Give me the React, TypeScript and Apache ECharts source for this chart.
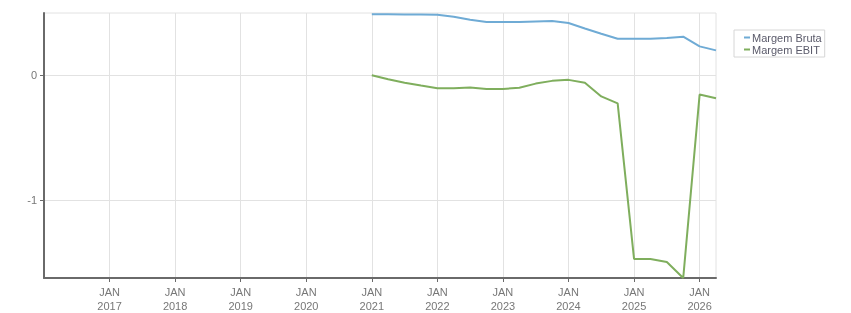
import React, { useEffect, useRef } from "react";
import * as echarts from "echarts";

const quarters = [
  "2021-01", "2021-04", "2021-07", "2021-10",
  "2022-01", "2022-04", "2022-07", "2022-10",
  "2023-01", "2023-04", "2023-07", "2023-10",
  "2024-01", "2024-04", "2024-07", "2024-10",
  "2025-01", "2025-04", "2025-07", "2025-10",
  "2026-01", "2026-04",
];

const margemBruta = [
  0.49, 0.49, 0.488, 0.487,
  0.486, 0.47, 0.445, 0.428,
  0.428, 0.428, 0.432, 0.435,
  0.42, 0.375, 0.333, 0.293,
  0.293, 0.293, 0.3, 0.31,
  0.232, 0.2,
];

const margemEbit = [
  0, -0.032, -0.06, -0.083,
  -0.104, -0.104, -0.098, -0.11,
  -0.11, -0.1, -0.067, -0.045,
  -0.037, -0.06, -0.17, -0.226,
  -1.475, -1.475, -1.5, -1.628,
  -0.155, -0.184,
];

const yearTicks = [2017, 2018, 2019, 2020, 2021, 2022, 2023, 2024, 2025, 2026];
const yTicks = [-1, 0];

const toYear = (q: string) => {
  const [y, m] = q.split("-").map(Number);
  return y + (m - 1) / 12;
};

const FONT = "Liberation Sans";

export default function App() {
  const ref = useRef<HTMLDivElement>(null);
  useEffect(() => {
    if (!ref.current) return;
    const chart = echarts.init(ref.current, undefined, { renderer: "svg" });
    const xs = quarters.map(toYear);
    chart.setOption({
      animation: false,
      grid: {
        left: 44,
        right: 135,
        top: 13,
        bottom: 34,
        show: true,
        borderColor: "#e2e2e2",
        borderWidth: 1,
      },
      legend: {
        orient: "vertical",
        left: 734,
        top: 30,
        padding: [2, 3, 2, 10],
        itemGap: 1,
        itemWidth: 6,
        itemHeight: 2,
        icon: "rect",
        backgroundColor: "#fff",
        borderColor: "#d6d6d6",
        borderWidth: 1,
        textStyle: { fontFamily: FONT, fontSize: 11, color: "#5a5a6a", lineHeight: 11, padding: [0, 0, 0, -3] },
        data: ["Margem Bruta", "Margem EBIT"],
      },
      xAxis: {
        type: "value",
        min: 2016,
        max: 2026.25,
        interval: 1,
        axisLine: { show: true, onZero: false, lineStyle: { color: "#6a6a6a", width: 2 } },
        axisTick: { show: true, length: 4, lineStyle: { color: "#6a6a6a" }, customValues: yearTicks },
        axisLabel: {
          customValues: yearTicks,
          fontFamily: FONT,
          fontSize: 11,
          color: "#777",
          lineHeight: 14,
          margin: 7,
          formatter: (v: number) => "JAN\n" + Math.round(v),
        },
        splitLine: { show: true, lineStyle: { color: "#e2e2e2", width: 1 } },
      },
      yAxis: {
        type: "value",
        min: "dataMin",
        max: 0.5,
        splitNumber: 2,
        axisLine: { show: true, onZero: false, lineStyle: { color: "#6a6a6a", width: 2 } },
        axisTick: { show: true, length: 4, lineStyle: { color: "#6a6a6a" }, customValues: yTicks },
        axisLabel: {
          customValues: yTicks,
          fontFamily: FONT,
          fontSize: 11,
          color: "#777",
          margin: 7,
          formatter: (v: number) => String(Math.round(v)),
        },
        splitLine: { show: true, lineStyle: { color: "#e2e2e2", width: 1 } },
      },
      series: [
        {
          name: "Margem Bruta",
          type: "line",
          data: xs.map((x, i) => [x, margemBruta[i]]),
          showSymbol: false,
          color: "#6fabd5",
          lineStyle: { width: 2, color: "#6fabd5" },
        },
        {
          name: "Margem EBIT",
          type: "line",
          data: xs.map((x, i) => [x, margemEbit[i]]),
          showSymbol: false,
          color: "#7fae5d",
          lineStyle: { width: 2, color: "#7fae5d" },
        },
      ],
    });
    return () => chart.dispose();
  }, []);
  return (
    <div
      ref={ref}
      style={{ position: "fixed", left: 0, top: 0, width: 851, height: 313 }}
    />
  );
}
